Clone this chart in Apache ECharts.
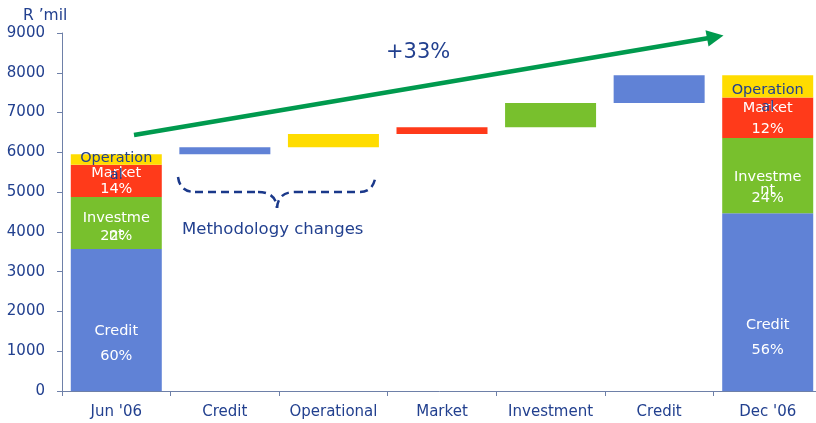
<!DOCTYPE html>
<html>
<head>
<meta charset="utf-8">
<script src="https://cdn.jsdelivr.net/npm/echarts@6/dist/echarts.min.js"></script>
<style>
html,body{margin:0;padding:0;background:#fff;}
#chart{width:816px;height:423px;}
</style>
</head>
<body>
<div id="chart"></div>
<script>
// ---- data ----
const categories = ["Jun '06", "Credit", "Operational", "Market", "Investment", "Credit", "Dec '06"];
const baseValues      = ['-', 5950, 6130, 6460, 6630, 7240, '-'];
const creditValues    = [3570, 180, '-', '-', '-', 700, 4470];
const investValues    = [1310, '-', '-', '-', 610, '-', 1890];
const marketValues    = [810, '-', '-', 170, '-', '-', 1020];
const operationValues = [260, '-', 330, '-', '-', '-', 560];
const creditShares = ['60%', '56%'];
const investShares = ['22%', '24%'];
const marketShares = ['14%', '12%'];
const growthLabel = '+33%';
const yMin = 0, yMax = 9000, yStep = 1000;
const unitLabel = 'R \u2019mil';
const noteLabel = 'Methodology changes';

// ---- styles ----
const FONT = 'DejaVu Sans';
const NAVY = '#22408f';
const AXIS = '#6e80a8';
const C_BLUE = '#6082d6', C_GREEN = '#78c02d', C_RED = '#ff3a1a', C_YELLOW = '#ffdc00';
const ARROW = '#009a4e';
const LFS = 14.5;

function tokenRich(lh, color) {
  return { fontFamily: FONT, fontSize: LFS, color: color, lineHeight: lh };
}

// label layouts for the two total bars (index 0 and 6)
const totalIdx = [0, 6];
const creditLabel = [
  { d: 94.5, lh: 25 },
  { d: 124.3, lh: 25 }
];
const marketLabel = [
  { d: 16.3, lh: 16 },
  { d: 21, lh: 21 }
];
const operationLabel = [
  { d: 12.2, lh: 17 },
  { d: 23.4, lh: 17 }
];
const investLabel = [
  { d: 22, l1: 34, l2: 1, l3: 1 },
  { d: 47, l1: 17, l2: 9, l3: 7 }
];

function withLabels(values, makeLabel) {
  return values.map((v, i) => {
    const k = totalIdx.indexOf(i);
    if (k < 0) return v;
    return { value: v, label: makeLabel(k) };
  });
}

function simpleLabel(text, lay, color) {
  return {
    show: true,
    position: ['50%', lay.d],
    align: 'center',
    verticalAlign: 'middle',
    formatter: text,
    color: color,
    fontFamily: FONT,
    fontSize: LFS,
    lineHeight: lay.lh
  };
}

const creditData = withLabels(creditValues, k => simpleLabel('Credit\n' + creditShares[k], creditLabel[k], '#fff'));
const marketData = withLabels(marketValues, k => simpleLabel('Market\n' + marketShares[k], marketLabel[k], '#fff'));
const operationData = withLabels(operationValues, k => simpleLabel('Operation\nal', operationLabel[k], NAVY));
const investData = withLabels(investValues, k => {
  const lay = investLabel[k];
  return {
    show: true,
    position: ['50%', lay.d],
    align: 'center',
    verticalAlign: 'middle',
    formatter: '{a|Investme}\n{b|nt}\n{c|' + investShares[k] + '}',
    rich: {
      a: tokenRich(lay.l1, '#fff'),
      b: tokenRich(lay.l2, '#fff'),
      c: tokenRich(lay.l3, '#fff')
    }
  };
});

const BAR_W = 91;
function barSeries(name, data, color) {
  return {
    name: name,
    type: 'bar',
    stack: 'w',
    barWidth: BAR_W,
    data: data,
    itemStyle: { color: color },
    label: { show: false },
    emphasis: { disabled: true },
    silent: true
  };
}

const chart = echarts.init(document.getElementById('chart'), null, { renderer: 'canvas' });
chart.setOption({
  animation: false,
  backgroundColor: '#fff',
  grid: { left: 62, top: 33, width: 760, height: 358, containLabel: false, outerBoundsMode: 'none' },
  xAxis: {
    type: 'category',
    data: categories,
    boundaryGap: true,
    axisLine: { show: true, lineStyle: { color: AXIS, width: 1 } },
    axisTick: { show: true, length: 5, lineStyle: { color: AXIS } },
    axisLabel: { color: NAVY, fontFamily: FONT, fontSize: 15, margin: 14, interval: 0 }
  },
  yAxis: {
    type: 'value',
    min: yMin, max: yMax, interval: yStep,
    axisLine: { show: true, lineStyle: { color: AXIS, width: 1 } },
    axisTick: { show: true, length: 5, lineStyle: { color: AXIS } },
    axisLabel: { color: NAVY, fontFamily: FONT, fontSize: 15, margin: 17, formatter: v => String(v) },
    splitLine: { show: false }
  },
  series: [
    barSeries('base', baseValues, 'rgba(0,0,0,0)'),
    barSeries('Credit', creditData, C_BLUE),
    barSeries('Investment', investData, C_GREEN),
    barSeries('Market', marketData, C_RED),
    barSeries('Operational', operationData, C_YELLOW)
  ],
  graphic: [
    { type: 'text', left: 23, top: 8, style: { text: unitLabel, fill: NAVY, font: '15.5px "DejaVu Sans"' } },
    { type: 'text', left: 386, top: 42, style: { text: growthLabel, fill: NAVY, font: '21px "DejaVu Sans"' } },
    { type: 'text', left: 182, top: 221, style: { text: noteLabel, fill: NAVY, font: '16.5px "DejaVu Sans"' } },
    { type: 'line', shape: { x1: 134, y1: 135, x2: 709, y2: 38 }, style: { stroke: ARROW, lineWidth: 4.5 } },
    { type: 'polygon', shape: { points: [[705.5, 30.2], [723.5, 35.5], [708.5, 46.4]] }, style: { fill: ARROW } },
    // curly brace (dashed)
    { type: 'bezierCurve', shape: { x1: 178, y1: 177, cpx1: 180, cpy1: 192, x2: 195, y2: 192 },
      style: { stroke: '#1a388a', lineWidth: 2.5, lineDash: [8, 5], fill: null } },
    { type: 'line', shape: { x1: 195, y1: 192, x2: 258, y2: 192 },
      style: { stroke: '#1a388a', lineWidth: 2.5, lineDash: [8, 5] } },
    { type: 'bezierCurve', shape: { x1: 258, y1: 192, cpx1: 276, cpy1: 192, x2: 277, y2: 208 },
      style: { stroke: '#1a388a', lineWidth: 2.5, lineDash: [8, 5], fill: null } },
    { type: 'bezierCurve', shape: { x1: 277, y1: 208, cpx1: 278, cpy1: 192, x2: 295, y2: 192 },
      style: { stroke: '#1a388a', lineWidth: 2.5, lineDash: [8, 5], fill: null } },
    { type: 'line', shape: { x1: 295, y1: 192, x2: 360, y2: 192 },
      style: { stroke: '#1a388a', lineWidth: 2.5, lineDash: [8, 5] } },
    { type: 'bezierCurve', shape: { x1: 360, y1: 192, cpx1: 372, cpy1: 192, x2: 375, y2: 179 },
      style: { stroke: '#1a388a', lineWidth: 2.5, lineDash: [8, 5], fill: null } }
  ]
});
</script>
</body>
</html>
